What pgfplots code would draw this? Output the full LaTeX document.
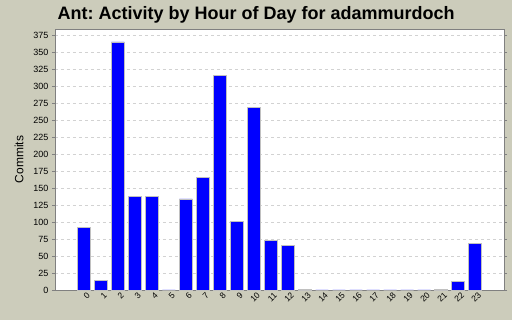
\documentclass[border=0pt]{standalone}
\usepackage{pgfplots}
\pgfplotsset{compat=1.18}
\usepackage{fontspec}
\setmainfont{Liberation Sans}
\frenchspacing
\definecolor{bg}{RGB}{204,204,187}
\definecolor{barblue}{RGB}{0,0,255}
\definecolor{baredge}{RGB}{192,192,192}
\definecolor{axgray}{RGB}{128,128,128}
\begin{document}
\begin{tikzpicture}
\fill[bg] (-55pt,-30pt) rectangle (457pt,290pt);
\useasboundingbox (-55pt,-30pt) rectangle (457pt,290pt);
\begin{axis}[
  at={(0,0)}, anchor=south west,
  scale only axis, width=449pt, height=261pt,
  xmin=-1.7, xmax=24.7, ymin=0, ymax=384,
  axis background/.style={fill=white},
  axis line style={axgray},
  xtick={0,...,23},
  xticklabels={0,1,2,3,4,5,6,7,8,9,10,11,12,13,14,15,16,17,18,19,20,21,22,23},
  x tick label style={rotate=45, anchor=east, font=\fontsize{8.5}{10}\selectfont, inner sep=0.5pt, yshift=-4pt, xshift=3pt},
  major x tick style={draw=none},
  ytick={0,25,...,375},
  y tick label style={font=\fontsize{9}{10}\selectfont},
  tick align=outside, tick style={axgray}, major tick length=3pt,
  ymajorgrids, grid style={dashed, lightgray!70},
  /pgf/number format/assume math mode=true,
  ylabel={Commits}, ylabel style={font=\fontsize{12}{13}\selectfont, at={(axis description cs:0,0.5)}, anchor=center, yshift=36pt},
  ybar, bar width=0.76,
  title={\bfseries Ant: Activity by Hour of Day for adammurdoch},
  title style={font=\fontsize{18}{20}\selectfont, at={(axis description cs:0.448,1)}, anchor=base, yshift=3pt},
  clip=false,
]
\addplot[fill=barblue, draw=baredge, line width=0.8pt] coordinates {
(0,92) (1,14) (2,365) (3,138) (4,137) (5,0) (6,134) (7,165) (8,316) (9,101)
(10,269) (11,73) (12,66) (13,1) (14,0) (15,0) (16,0) (17,0) (18,0) (19,0)
(20,0) (21,1) (22,12) (23,68)};
\end{axis}
\end{tikzpicture}
\end{document}
